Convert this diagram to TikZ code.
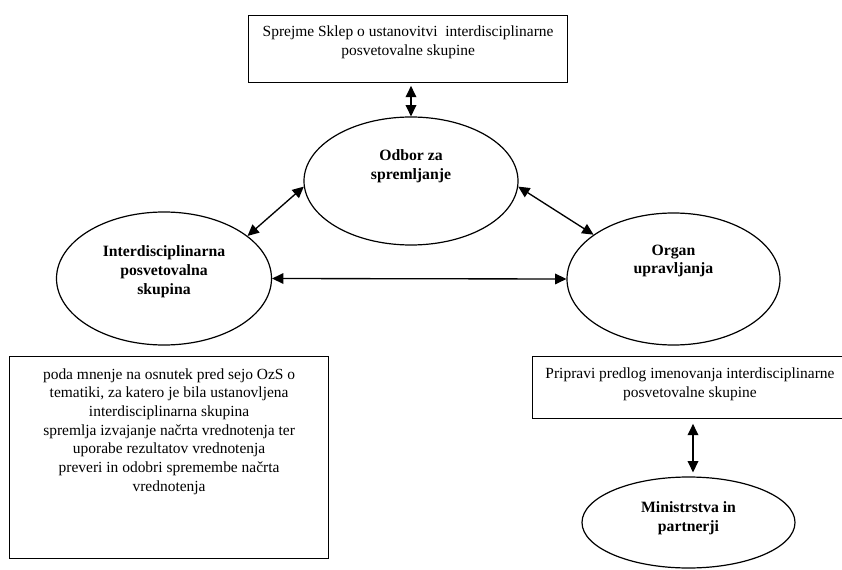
\documentclass[tikz,border=0pt]{standalone}
\usepackage{fontspec}
\setmainfont{Liberation Serif}
\usetikzlibrary{shapes.geometric,arrows.meta,calc}
\begin{document}
\begin{tikzpicture}[x=0.75pt,y=-0.75pt,
  ell/.style={draw, line width=0.9pt, ellipse, inner sep=0pt},
  box/.style={draw, line width=0.9pt, rectangle, inner sep=0pt, anchor=north west},
  lbl/.style={font=\fontsize{11.8pt}{14pt}\selectfont\bfseries, align=center, inner sep=0pt},
  txt/.style={font=\fontsize{11.6pt}{14pt}\selectfont, align=center, inner sep=0pt, anchor=north},
  link/.style={line width=1pt, {Triangle[length=8.5pt,width=8pt]}-{Triangle[length=8.5pt,width=8pt]}}
]
\useasboundingbox (0,0) rectangle (842,570);
\fill[white] (0,0) rectangle (842,570);

% boxes
\node[box, minimum width=319*0.75pt, minimum height=67*0.75pt,
  label={[txt, yshift=-8.25pt]north:{Sprejme Sklep o ustanovitvi~ interdisciplinarne\\posvetovalne skupine}}]
  (topbox) at (248,15) {};
\node[box, minimum width=319*0.75pt, minimum height=202*0.75pt,
  label={[txt, yshift=-9pt]north:{poda mnenje na osnutek pred sejo OzS o\\tematiki, za katero je bila ustanovljena\\interdisciplinarna skupina\\spremlja izvajanje načrta vrednotenja ter\\uporabe rezultatov vrednotenja\\preveri in odobri spremembe načrta\\vrednotenja}}]
  (lbox) at (9,356) {};
\node[box, minimum width=316*0.75pt, minimum height=62*0.75pt] (rbox) at (532,356) {};
\node[txt, yshift=-9pt] (rboxtxt) at (690,356) {Pripravi predlog imenovanja interdisciplinarne\\posvetovalne skupine};

% ellipses
\node[ell, minimum width=214*0.75pt, minimum height=128*0.75pt,
  label={[lbl, yshift=11pt]center:{Odbor za\\spremljanje}}] (odbor) at (411,181) {};
\node[ell, minimum width=215*0.75pt, minimum height=133*0.75pt,
  label={[lbl, yshift=5pt]center:{Interdisciplinarna\\posvetovalna\\skupina}}] (inter) at (164,278.5) {};
\node[ell, minimum width=213*0.75pt, minimum height=132*0.75pt,
  label={[lbl, yshift=13.5pt]center:{Organ\\upravljanja}}] (organ) at (673.5,279) {};
\node[ell, minimum width=213*0.75pt, minimum height=91*0.75pt,
  label={[lbl, yshift=3pt]center:{Ministrstva in\\partnerji}}] (minis) at (688.5,522.5) {};

% connectors
\coordinate (ax) at (693,0);
\draw[link, shorten <=2pt] (odbor.north |- topbox.south) -- (odbor.north);
\draw[link] (inter.27) -- (odbor.183);
\draw[link] (odbor.-3) -- (organ.151);
\draw[link] (inter.east) -- (organ.west);
\draw[link, shorten <=3.5pt, shorten >=3pt] (ax |- rbox.south) -- (ax |- minis.north);
\end{tikzpicture}
\end{document}
